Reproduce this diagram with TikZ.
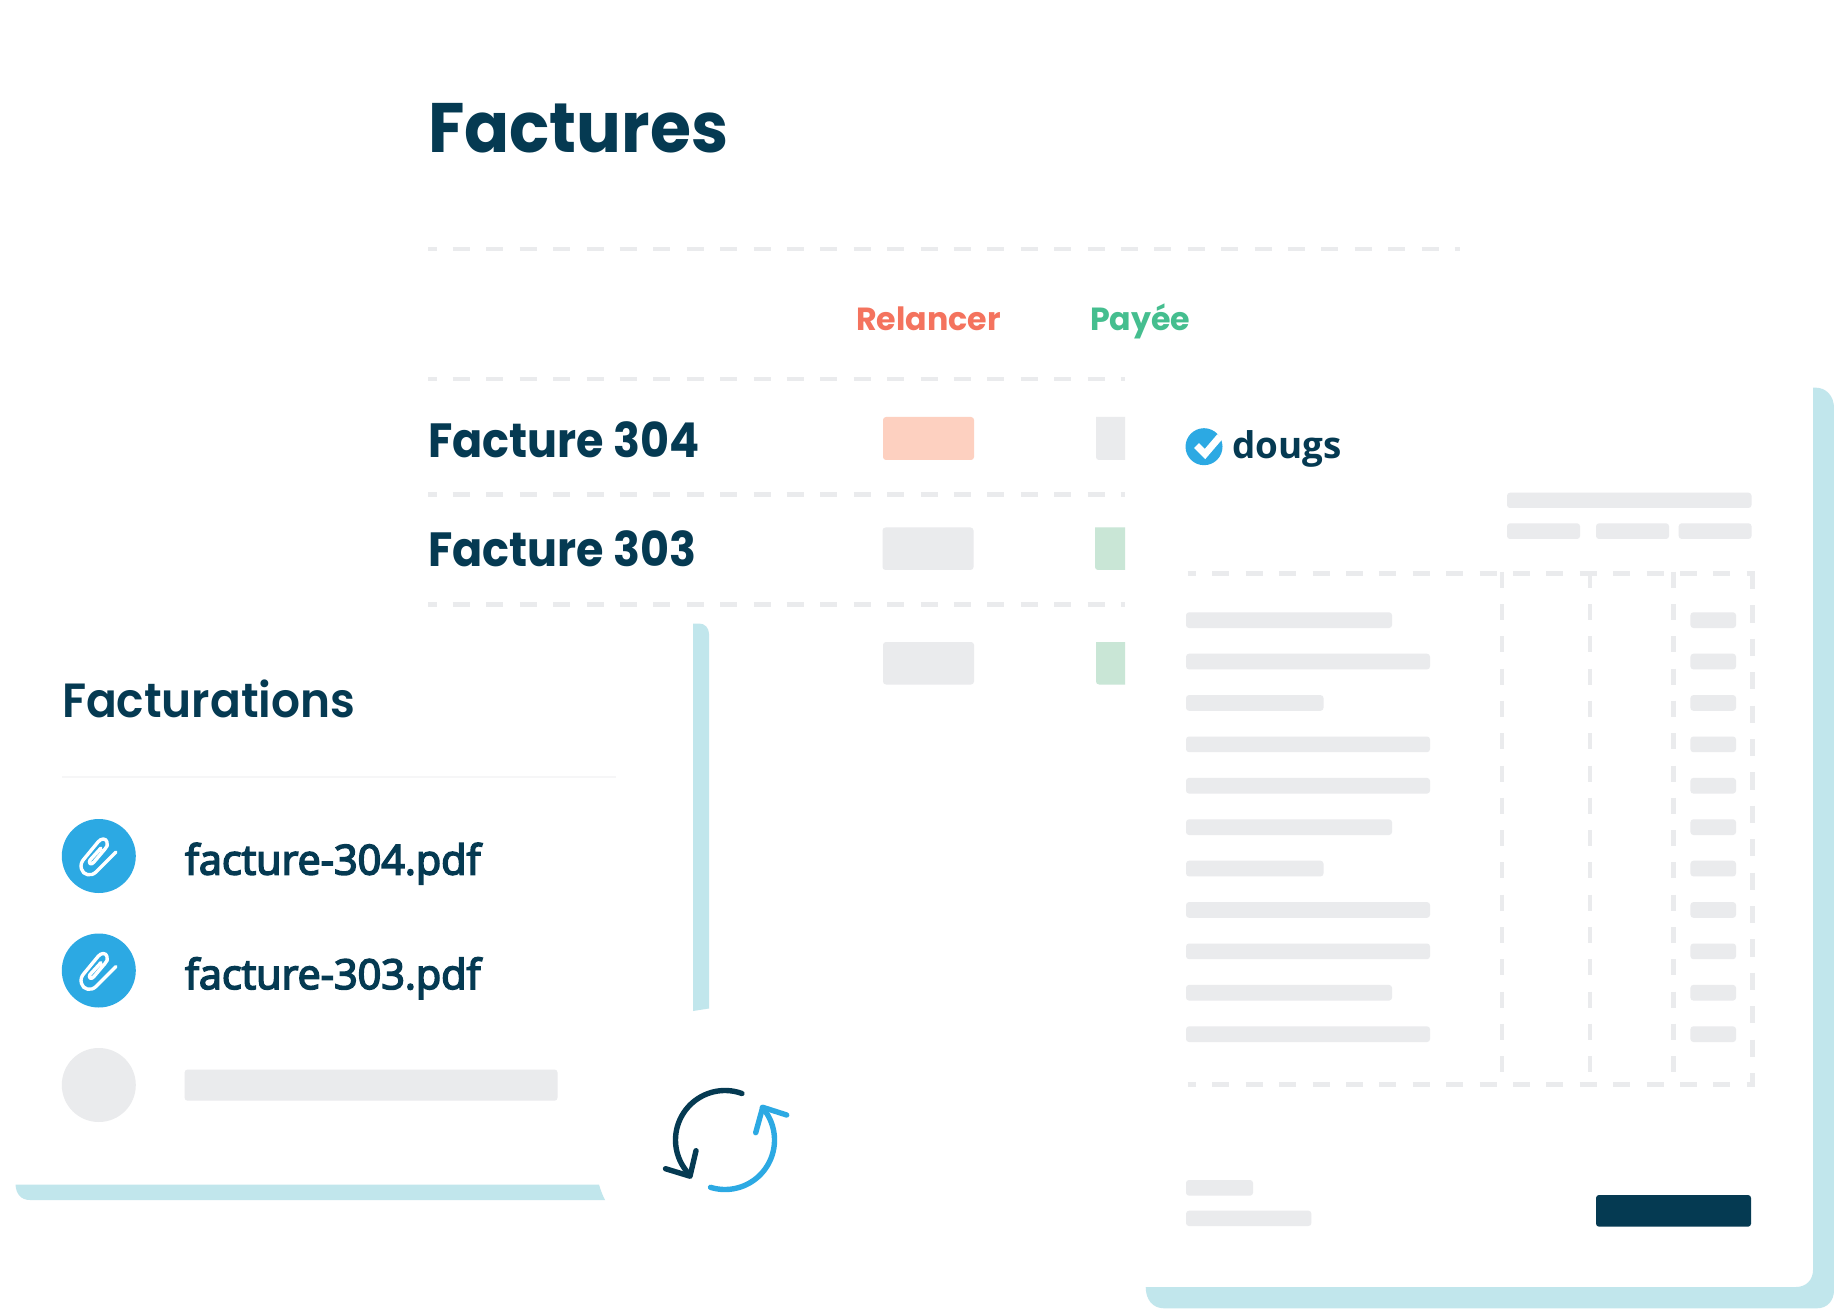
\documentclass[tikz,border=0pt]{standalone}
\usepackage{fontspec}
\setmainfont{Open Sans}
\newfontfamily\poptitle{Poppins}[UprightFont=* Bold,FakeStretch=0.95]
\newfontfamily\poprow{Poppins}[UprightFont=* Bold,FakeStretch=0.927]
\newfontfamily\poplab{Poppins}[UprightFont=* Bold,FakeStretch=0.99]
\newfontfamily\popfac{Poppins}[UprightFont=* SemiBold,FakeStretch=0.947]
\newfontfamily\opens{Open Sans}[FakeBold=4]
\newfontfamily\openlogo{Open Sans}[UprightFont=* Bold,FakeBold=2]
\definecolor{navy}{HTML}{053A52}
\definecolor{sky}{HTML}{2CA9E3}
\definecolor{pale}{HTML}{C1E6EC}
\definecolor{bar}{HTML}{EAEBED}
\definecolor{peach}{HTML}{FDD0C0}
\definecolor{mint}{HTML}{C9E6D6}
\definecolor{coral}{HTML}{F4735E}
\definecolor{leaf}{HTML}{45BE8F}
\tikzset{
  x=0.5pt,y=-0.5pt,
  txt/.style={anchor=base west,inner sep=0pt,outer sep=0pt,text=navy},
  dashh/.style={bar,line width=2.4pt,dash pattern=on 8.5pt off 8.2pt,dash phase=4.25pt},
  dashv/.style={bar,line width=2.4pt,dash pattern=on 8pt off 8.15pt},
  dashr/.style={bar,line width=2.4pt,dash pattern=on 8.6pt off 8.1pt},
  ph/.style={fill=bar,rounded corners=1.5pt,draw=none},
  clipw/.style={white,line width=1.7pt,line cap=round,line join=round},
  loopdark/.style={navy,line width=2.7pt,line cap=round,line join=round},
  loopblue/.style={sky,line width=2.7pt,line cap=round,line join=round}
}
\newcommand{\clipicon}{%
  \draw[clipw] (116,852) -- (96,872) .. controls (91,877) and (83,875) .. (81.5,869)
    .. controls (80,865) and (82,861) .. (84,859) -- (98,842)
    .. controls (101,838) and (106,838) .. (107,842)
    .. controls (108,845) and (107,847) .. (105,849) -- (94,862)
    .. controls (91,866) and (88,863) .. (90,860) -- (101,848);}
\begin{document}
\begin{tikzpicture}
\useasboundingbox (0,0) rectangle (1834,1309);
\fill[white] (0,0) rectangle (1834,1309);

% Factures table
\node[txt,font=\poptitle\fontsize{35}{35}\selectfont] (title) at (428,153) {Factures};
\draw[dashh] (428,249) -- (1460,249);
\node[txt,text=coral,font=\poplab\fontsize{16}{16}\selectfont] (rel) at (856,331) {Relancer};
\node[txt,text=leaf,font=\poplab\fontsize{16}{16}\selectfont] (pay) at (1090,331) {Payée};
\draw[dashh] (428,379) -- (1125,379);
\node[txt,font=\poprow\fontsize{24}{24}\selectfont] (f304) at (428,457.5) {Facture 304};
\fill[peach,rounded corners=1.5pt] (883,417) rectangle (974,460);
\fill[bar,rounded corners=1.5pt] (1096,417) -- (1096,460) [sharp corners] -- (1125,460) -- (1125,417) -- cycle;
\draw[dashh] (428,494.3) -- (1125,494.3);
\node[txt,font=\poprow\fontsize{24}{24}\selectfont] (f303) at (428,566.5) {Facture 303};
\fill[ph] (882.5,527.5) rectangle (973.5,570);
\fill[mint,rounded corners=1.5pt] (1095,527.5) -- (1095,570) [sharp corners] -- (1125,570) -- (1125,527.5) -- cycle;
\draw[dashh] (428,604.5) -- (1125,604.5);
\fill[ph] (883,642) rectangle (974,684.5);
\fill[mint,rounded corners=1.5pt] (1096,642) -- (1096,684.5) [sharp corners] -- (1125,684.5) -- (1125,642) -- cycle;

% Facturations card
\fill[pale] (693,623.5) -- (699,623.5) .. controls (705,623.5) and (709,628) .. (709,634) -- (709,1008.5) -- (693,1011) -- cycle;
\fill[pale] (15.5,1184.5) -- (599,1184.5) .. controls (600.5,1190) and (602.5,1195) .. (605,1200) -- (30,1200) .. controls (21,1200) and (16,1194) .. (15.5,1184.5) -- cycle;
\node[txt,font=\popfac\fontsize{24}{24}\selectfont] (fact) at (62,717) {Facturations};
\draw[draw=bar!45,line width=1.2pt] (62,777) -- (616,777);
\fill[sky] (98.8,856) circle[radius=37];
\clipicon
\fill[sky] (98.8,970.5) circle[radius=37];
\begin{scope}[shift={(0,114.5)}]\clipicon\end{scope}
\fill[bar] (98.8,1085) circle[radius=37];
\node[txt,font=\opens\fontsize{20.65}{20.65}\selectfont] (p304) at (185,874.5) {facture-304.pdf};
\node[txt,font=\opens\fontsize{20.65}{20.65}\selectfont] (p303) at (185,989) {facture-303.pdf};
\fill[ph] (184.6,1069.5) rectangle (557.5,1100.7);

% refresh icon
\draw[loopdark] plot[domain=70:225,samples=50] ({725+49.5*cos(\x)},{1140-49.5*sin(\x)});
\draw[loopdark] (665.5,1168.7) -- (690,1176.2) -- (696,1150.7);
\draw[loopblue] plot[domain=-107:41,samples=50] ({725+49.5*cos(\x)},{1140-49.5*sin(\x)});
\draw[loopblue] (755.7,1132.7) -- (762.7,1107.3) -- (786.7,1115);

% Invoice card
\fill[pale] (1813,387.7) -- (1816,387.7) .. controls (1826,387.7) and (1834,396) .. (1834,408) -- (1834,1290) .. controls (1834,1301) and (1827,1308.3) .. (1817,1308.3) -- (1164,1308.3) .. controls (1153,1308.3) and (1145.7,1300) .. (1145.7,1287) -- (1796,1287) .. controls (1806,1287) and (1813,1280) .. (1813,1270) -- cycle;

\fill[sky] (1204,446.7) circle[radius=18.5];
\draw[white,line width=3.5pt] (1196.5,445.5) -- (1205,454) -- (1220,436.5);
\node[txt,font=\bfseries\fontsize{18.4}{18.4}\selectfont] (dougs) at (1232,459) {dougs};

\fill[ph] (1507,492.7) rectangle (1751.5,508);
\fill[ph] (1507,523.3) rectangle (1580,539);
\fill[ph] (1596,523.3) rectangle (1669,539);
\fill[ph] (1678.7,523.3) rectangle (1751.5,539);

\draw[dashh] (1187.5,573.7) -- (1755,573.7);
\draw[dashh] (1187.5,1084.3) -- (1755,1084.3);
\draw[dashv] (1502,571.7) -- (1502,1086);
\draw[dashv] (1590,571.7) -- (1590,1086);
\draw[dashv] (1673.3,571.7) -- (1673.3,1086);
\draw[dashr] (1752.4,572) -- (1752.4,1086);

\foreach \y/\r in {612.3/1392,653.7/1430,695.1/1323.5,736.5/1430,777.9/1430,819.3/1392,860.7/1323.5,902.1/1430,943.5/1430,984.9/1392,1026.3/1430}{
  \fill[ph] (1186,\y) rectangle (\r,\y+15.7);
  \fill[ph] (1690.4,\y) rectangle (1736,\y+15.7);
}
\fill[ph] (1186,1180) rectangle (1253,1195.7);
\fill[ph] (1186,1210.7) rectangle (1311.4,1226);
\fill[navy,rounded corners=1.5pt] (1596,1195) rectangle (1751,1226.7);
\end{tikzpicture}
\end{document}
